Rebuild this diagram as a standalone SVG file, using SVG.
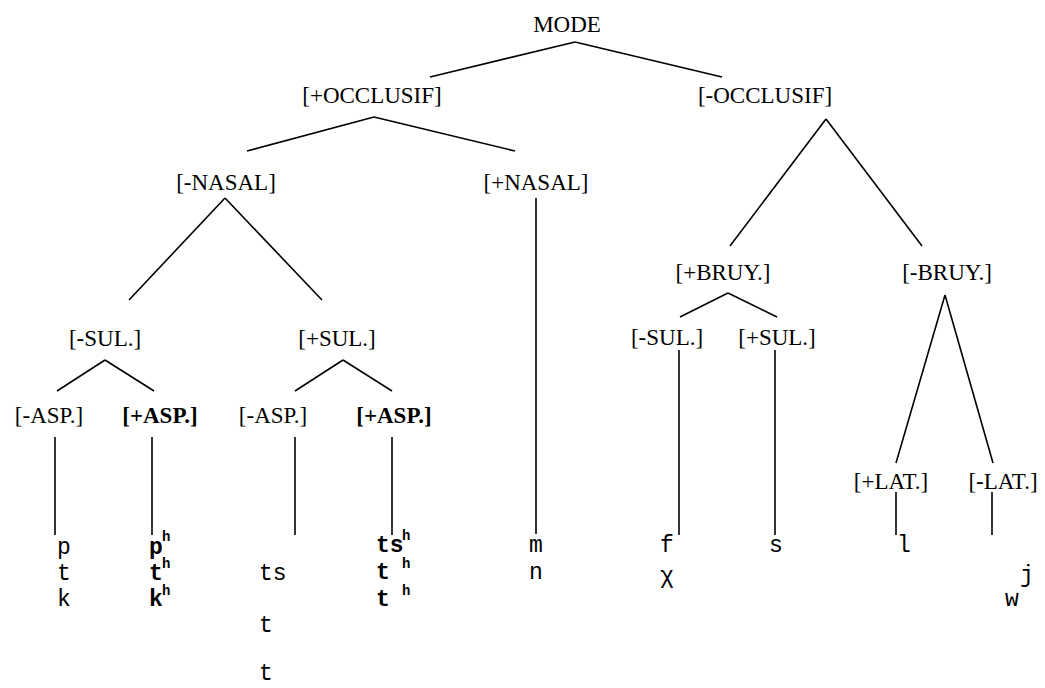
<svg xmlns="http://www.w3.org/2000/svg" width="1045" height="688" viewBox="0 0 1045 688">
<style>
.lbl{font-family:"Liberation Serif","Times New Roman",serif;font-size:23px;fill:#000;text-anchor:middle}
.b{font-weight:bold}
.ph{font-family:"Liberation Mono","Courier New",monospace;font-size:23px;fill:#000}
.m{text-anchor:middle}
.sup{font-family:"Liberation Mono","Courier New",monospace;font-size:14px;font-weight:bold;fill:#000}
.edges line{stroke:#000;stroke-width:1.6;fill:none}
</style>
<rect width="1045" height="688" fill="#fff"/>
<g class="edges" id="connectors">
<line x1="575" y1="42" x2="430" y2="77"/>
<line x1="575" y1="42" x2="722" y2="77"/>
<line x1="374" y1="117" x2="247" y2="151"/>
<line x1="374" y1="117" x2="515" y2="151"/>
<line x1="826" y1="119" x2="730" y2="246"/>
<line x1="826" y1="119" x2="922" y2="246"/>
<line x1="225" y1="198" x2="129" y2="300"/>
<line x1="225" y1="198" x2="322" y2="300"/>
<line x1="536" y1="198" x2="536" y2="534"/>
<line x1="105" y1="360" x2="57" y2="391"/>
<line x1="105" y1="360" x2="154" y2="391"/>
<line x1="343" y1="360" x2="295" y2="391"/>
<line x1="343" y1="360" x2="392" y2="391"/>
<line x1="55" y1="437" x2="55" y2="535"/>
<line x1="152" y1="437" x2="152" y2="535"/>
<line x1="295" y1="437" x2="295" y2="535"/>
<line x1="392" y1="437" x2="392" y2="535"/>
<line x1="728" y1="293" x2="680" y2="317"/>
<line x1="728" y1="293" x2="777" y2="317"/>
<line x1="945" y1="295" x2="896" y2="463"/>
<line x1="945" y1="295" x2="993" y2="463"/>
<line x1="679" y1="350" x2="679" y2="535"/>
<line x1="775" y1="350" x2="775" y2="535"/>
<line x1="896" y1="492" x2="896" y2="535"/>
<line x1="992" y1="492" x2="992" y2="535"/>
</g>
<g id="mode"><text class="lbl" x="567" y="32">MODE</text></g>
<g id="plus-occlusif"><text class="lbl" x="372" y="103">[+OCCLUSIF]</text></g>
<g id="minus-occlusif"><text class="lbl" x="765" y="103">[-OCCLUSIF]</text></g>
<g id="minus-nasal"><text class="lbl" x="226" y="190">[-NASAL]</text></g>
<g id="plus-nasal"><text class="lbl" x="536" y="190">[+NASAL]</text></g>
<g id="minus-sul-1"><text class="lbl" x="105" y="346">[-SUL.]</text></g>
<g id="plus-sul-1"><text class="lbl" x="337" y="346">[+SUL.]</text></g>
<g id="minus-asp-1"><text class="lbl" x="49" y="423">[-ASP.]</text></g>
<g id="plus-asp-1"><text class="lbl b" x="160" y="423">[+ASP.]</text></g>
<g id="minus-asp-2"><text class="lbl" x="273" y="423">[-ASP.]</text></g>
<g id="plus-asp-2"><text class="lbl b" x="394" y="423">[+ASP.]</text></g>
<g id="plus-bruy"><text class="lbl" x="723" y="280">[+BRUY.]</text></g>
<g id="minus-bruy"><text class="lbl" x="947" y="280">[-BRUY.]</text></g>
<g id="minus-sul-2"><text class="lbl" x="667" y="345">[-SUL.]</text></g>
<g id="plus-sul-2"><text class="lbl" x="777" y="345">[+SUL.]</text></g>
<g id="plus-lat"><text class="lbl" x="891" y="489">[+LAT.]</text></g>
<g id="minus-lat"><text class="lbl" x="1003" y="489">[-LAT.]</text></g>
<g id="leaf-ptk">
<text class="ph m" x="64" y="554">p</text>
<text class="ph m" x="64" y="580">t</text>
<text class="ph m" x="64" y="606">k</text>
</g>
<g id="leaf-ph-th-kh">
<text class="ph m b" x="156" y="554">p</text><text class="sup" x="162" y="541">h</text>
<text class="ph m b" x="156" y="580">t</text><text class="sup" x="162" y="568">h</text>
<text class="ph m b" x="156" y="606">k</text><text class="sup" x="162" y="595">h</text>
</g>
<g id="leaf-ts">
<text class="ph" x="259" y="580">ts</text>
<text class="ph m" x="266" y="632">t</text>
<text class="ph m" x="266" y="680">t</text>
</g>
<g id="leaf-tsh">
<text class="ph b" x="376" y="552">ts</text><text class="sup" x="402" y="540">h</text>
<text class="ph m b" x="383" y="579">t</text><text class="sup" x="402" y="568">h</text>
<text class="ph m b" x="383" y="606">t</text><text class="sup" x="402" y="595">h</text>
</g>
<g id="leaf-mn">
<text class="ph m" x="536" y="552">m</text>
<text class="ph m" x="536" y="579">n</text>
</g>
<g id="leaf-f">
<text class="ph m" x="667" y="552">f</text>
<text class="ph m" x="667" y="583">χ</text>
</g>
<g id="leaf-s"><text class="ph m" x="776" y="552">s</text></g>
<g id="leaf-l"><text class="ph m" x="904" y="552">l</text></g>
<g id="leaf-jw">
<text class="ph m" x="1027" y="582">j</text>
<text class="ph m" x="1012" y="606">w</text>
</g>
</svg>
